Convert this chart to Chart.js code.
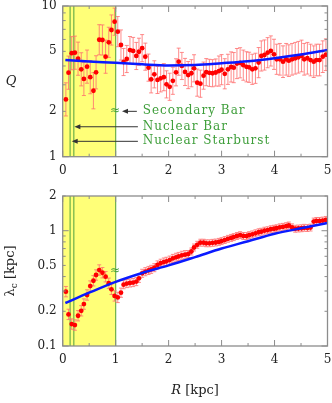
<!DOCTYPE html>
<html>
<head>
<meta charset="utf-8">
<script src="https://cdn.jsdelivr.net/npm/chart.js@4.4.0/dist/chart.umd.min.js"></script>
<style>
html, body { margin: 0; padding: 0; background: #fff; }
#wrap { position: relative; width: 332px; height: 403px; }
#wrap canvas { position: absolute; left: 0; }
</style>
</head>
<body>
<div id="wrap">
  <canvas id="chartQ" width="332" height="182" style="top:0"></canvas>
  <canvas id="chartL" width="332" height="221" style="top:182px"></canvas>
</div>
<script>
// radius of each measured ring [kpc]
var radius = [0.06, 0.11, 0.17, 0.23, 0.29, 0.35, 0.40, 0.46, 0.52, 0.58,
  0.63, 0.69, 0.75, 0.81, 0.87, 0.92, 0.98, 1.04, 1.10, 1.15,
  1.21, 1.27, 1.33, 1.39, 1.44, 1.50, 1.56, 1.62, 1.67, 1.73,
  1.79, 1.85, 1.91, 1.96, 2.02, 2.08, 2.14, 2.19, 2.25, 2.31,
  2.37, 2.43, 2.48, 2.54, 2.60, 2.66, 2.71, 2.77, 2.83, 2.89,
  2.95, 3.00, 3.06, 3.12, 3.18, 3.23, 3.29, 3.35, 3.41, 3.47,
  3.52, 3.58, 3.64, 3.70, 3.75, 3.81, 3.87, 3.93, 3.99, 4.04,
  4.10, 4.16, 4.22, 4.27, 4.33, 4.39, 4.45, 4.51, 4.56, 4.62,
  4.68, 4.74, 4.79, 4.85, 4.91, 4.97];

// Toomre Q
var qVals = [2.40, 3.61, 4.86, 4.90, 4.47, 3.80, 3.28, 3.96, 3.37, 2.74,
  3.63, 5.97, 5.95, 4.61, 5.74, 6.93, 7.87, 6.76, 5.51, 4.25,
  4.45, 5.10, 5.03, 4.66, 4.97, 5.25, 4.61, 3.90, 3.26, 3.52,
  3.23, 3.31, 3.37, 3.02, 2.91, 3.19, 3.63, 4.27, 4.00, 3.65,
  3.48, 3.58, 3.86, 3.10, 3.05, 3.45, 3.64, 3.60, 3.58, 3.62,
  3.70, 3.78, 3.55, 3.80, 3.94, 3.90, 4.15, 4.20, 4.05, 3.95,
  3.92, 3.80, 3.86, 4.21, 4.66, 4.73, 4.90, 5.03, 4.78, 4.43,
  4.43, 4.27, 4.43, 4.34, 4.43, 4.50, 4.57, 4.66, 4.43, 4.50,
  4.38, 4.27, 4.38, 4.38, 4.61, 4.75];
// half length of the Q error bars [dex]
var qErr = [0.11, 0.11, 0.11, 0.11, 0.11, 0.11, 0.11, 0.11, 0.11, 0.12,
  0.11, 0.10, 0.10, 0.11, 0.10, 0.10, 0.09, 0.10, 0.10, 0.09,
  0.09, 0.09, 0.09, 0.09, 0.09, 0.09, 0.09, 0.09, 0.09, 0.09,
  0.09, 0.09, 0.09, 0.09, 0.09, 0.09, 0.09, 0.09, 0.09, 0.09,
  0.09, 0.09, 0.09, 0.09, 0.09, 0.09, 0.09, 0.09, 0.09, 0.09,
  0.10, 0.10, 0.10, 0.10, 0.10, 0.10, 0.10, 0.10, 0.10, 0.10,
  0.10, 0.10, 0.10, 0.10, 0.10, 0.10, 0.10, 0.10, 0.10, 0.10,
  0.105, 0.105, 0.105, 0.105, 0.105, 0.105, 0.105, 0.105, 0.105, 0.105,
  0.105, 0.105, 0.105, 0.105, 0.105, 0.105];

// critical wavelength lambda_c [kpc]
var lamVals = [0.296, 0.188, 0.155, 0.152, 0.183, 0.202, 0.231, 0.277, 0.331, 0.368,
  0.413, 0.456, 0.432, 0.399, 0.350, 0.310, 0.272, 0.264, 0.290, 0.340,
  0.348, 0.352, 0.355, 0.362, 0.386, 0.427, 0.441, 0.452, 0.462, 0.478,
  0.505, 0.522, 0.535, 0.543, 0.556, 0.575, 0.588, 0.598, 0.612, 0.620,
  0.628, 0.660, 0.715, 0.755, 0.787, 0.787, 0.778, 0.778, 0.785, 0.790,
  0.800, 0.812, 0.830, 0.850, 0.866, 0.880, 0.900, 0.915, 0.900, 0.898,
  0.915, 0.930, 0.950, 0.970, 0.980, 1.000, 1.010, 1.030, 1.040, 1.050,
  1.070, 1.080, 1.095, 1.110, 1.070, 1.040, 1.045, 1.050, 1.060, 1.055,
  1.065, 1.200, 1.215, 1.215, 1.225, 1.240];
var lamErr = [0.045, 0.045, 0.045, 0.045, 0.045, 0.045, 0.045, 0.045, 0.045, 0.045,
  0.045, 0.045, 0.045, 0.045, 0.045, 0.045, 0.045, 0.045, 0.04, 0.035,
  0.035, 0.035, 0.035, 0.035, 0.035, 0.035, 0.035, 0.035, 0.035, 0.035,
  0.035, 0.035, 0.035, 0.035, 0.035, 0.035, 0.035, 0.035, 0.035, 0.035,
  0.03, 0.03, 0.03, 0.03, 0.03, 0.03, 0.03, 0.03, 0.03, 0.03,
  0.03, 0.03, 0.03, 0.03, 0.03, 0.03, 0.03, 0.03, 0.03, 0.03,
  0.03, 0.03, 0.03, 0.03, 0.03, 0.03, 0.03, 0.03, 0.03, 0.03,
  0.03, 0.03, 0.03, 0.03, 0.03, 0.03, 0.03, 0.03, 0.03, 0.03,
  0.03, 0.03, 0.03, 0.03, 0.03, 0.03];

// model curves (blue)
var fitR = [0.05, 0.5, 1, 1.5, 2, 2.5, 3, 3.5, 4, 4.5, 5];
var fitQ = [4.38, 4.28, 4.20, 4.10, 4.03, 4.06, 4.17, 4.30, 4.50, 4.76, 5.10];
var fitLam = [0.236, 0.29, 0.36, 0.43, 0.50, 0.59, 0.70, 0.81, 0.94, 1.05, 1.165];

// axes
var xTicks = [0, 1, 2, 3, 4, 5];
var xMinor = [0.5, 1.5, 2.5, 3.5, 4.5];
var qTicks = [1, 2, 5, 10];
var qMajor = [1, 10];
var qMinor = [2, 3, 4, 5, 6, 7, 8, 9];
var lamTicks = [0.1, 0.2, 0.5, 1, 2];
var lamMajor = [0.1, 1];
var lamMinor = [0.2, 0.3, 0.4, 0.5, 0.6, 0.7, 0.8, 0.9, 2];

// regions
var zoneEdge = [0, 1];
var nuclearLines = [0.14, 0.21];
var noteLabels = ["Secondary Bar", "Nuclear Bar", "Nuclear Starburst"];
var noteQ = [2.0, 1.58, 1.265];
var noteTip = [1.12, 0.22, 0.17];

var tickFont = { family: 'DejaVu Serif', size: 12 };
var green = '#3e9e3a';

function drawArrow(ctx, x0, x1, y) {
  ctx.strokeStyle = '#333';
  ctx.fillStyle = '#333';
  ctx.lineWidth = 1;
  ctx.beginPath();
  ctx.moveTo(x0, y);
  ctx.lineTo(x1 + 4, y);
  ctx.stroke();
  ctx.beginPath();
  ctx.moveTo(x1, y);
  ctx.lineTo(x1 + 6, y - 2.5);
  ctx.lineTo(x1 + 6, y + 2.5);
  ctx.closePath();
  ctx.fill();
}

function makeDeco(cfg) {
  return {
    id: 'deco',
    beforeDatasetsDraw: function(chart) {
      var ctx = chart.ctx, a = chart.chartArea, x = chart.scales.x, y = chart.scales.y;
      ctx.save();
      ctx.beginPath();
      ctx.rect(a.left, a.top, a.right - a.left, a.bottom - a.top);
      ctx.clip();
      // yellow inner zone
      var x0 = x.getPixelForValue(zoneEdge[0]), x1 = x.getPixelForValue(zoneEdge[1]);
      ctx.fillStyle = '#ffff78';
      ctx.fillRect(x0, a.top, x1 - x0, a.bottom - a.top);
      ctx.strokeStyle = '#6cb04a';
      ctx.lineWidth = 1.2;
      nuclearLines.concat([zoneEdge[1]]).forEach(function(r) {
        var px = x.getPixelForValue(r);
        ctx.beginPath();
        ctx.moveTo(px, a.top);
        ctx.lineTo(px, a.bottom);
        ctx.stroke();
      });
      // error bars
      ctx.strokeStyle = 'rgba(255,110,110,0.8)';
      ctx.lineWidth = 1;
      for (var i = 0; i < radius.length; i++) {
        var px = x.getPixelForValue(radius[i]);
        var f = Math.pow(10, cfg.err[i]);
        var yt = y.getPixelForValue(cfg.vals[i] * f), yb = y.getPixelForValue(cfg.vals[i] / f);
        ctx.beginPath();
        ctx.moveTo(px, yt); ctx.lineTo(px, yb);
        ctx.moveTo(px - 2, yt); ctx.lineTo(px + 2, yt);
        ctx.moveTo(px - 2, yb); ctx.lineTo(px + 2, yb);
        ctx.stroke();
      }
      ctx.restore();
    },
    afterDatasetsDraw: function(chart) {
      var ctx = chart.ctx, a = chart.chartArea, x = chart.scales.x, y = chart.scales.y;
      ctx.save();
      // frame
      ctx.strokeStyle = '#8c8c8c';
      ctx.lineWidth = 1.3;
      ctx.strokeRect(a.left, a.top, a.right - a.left, a.bottom - a.top);
      // inward ticks
      ctx.lineWidth = 1;
      ctx.beginPath();
      function xt(v, len) {
        var px = x.getPixelForValue(v);
        ctx.moveTo(px, a.bottom); ctx.lineTo(px, a.bottom - len);
        ctx.moveTo(px, a.top); ctx.lineTo(px, a.top + len);
      }
      function yt(v, len) {
        var py = y.getPixelForValue(v);
        ctx.moveTo(a.left, py); ctx.lineTo(a.left + len, py);
        ctx.moveTo(a.right, py); ctx.lineTo(a.right - len, py);
      }
      xTicks.forEach(function(v) { xt(v, 6); });
      xMinor.forEach(function(v) { xt(v, 3); });
      cfg.yMajor.forEach(function(v) { yt(v, 6); });
      cfg.yMinor.forEach(function(v) { yt(v, 3); });
      ctx.stroke();
      // approx sign at R = 1
      ctx.fillStyle = green;
      ctx.font = '12px "DejaVu Sans"';
      ctx.textAlign = 'center';
      ctx.textBaseline = 'middle';
      ctx.fillText('\u2248', x.getPixelForValue(0.99), y.getPixelForValue(cfg.approxY));
      // notes + arrows
      if (cfg.notes) {
        for (var i = 0; i < noteLabels.length; i++) {
          var py = y.getPixelForValue(noteQ[i]);
          var start = i === 0 ? 1.40 : 1.42;
          drawArrow(ctx, x.getPixelForValue(start), x.getPixelForValue(noteTip[i]), py);
          ctx.fillStyle = green;
          ctx.font = '12px "DejaVu Serif"';
          ctx.letterSpacing = '1px';
          ctx.textAlign = 'left';
          ctx.textBaseline = 'middle';
          ctx.fillText(noteLabels[i], x.getPixelForValue(1.51), py);
        }
      }
      ctx.restore();
      // axis titles
      ctx.save();
      ctx.fillStyle = '#222';
      ctx.textAlign = 'center';
      ctx.textBaseline = 'middle';
      if (cfg.notes) {
        ctx.font = 'italic 13px "DejaVu Serif"';
        ctx.fillText('Q', 11, 82);
      } else {
        ctx.translate(11, 89);
        ctx.rotate(-Math.PI / 2);
        ctx.font = '13px "DejaVu Serif"';
        var w1 = ctx.measureText('\u03bb').width;
        ctx.font = '9px "DejaVu Serif"';
        var w2 = ctx.measureText('c').width;
        ctx.font = '13px "DejaVu Serif"';
        var w3 = ctx.measureText(' [kpc]').width;
        var sx = -(w1 + w2 + w3) / 2;
        ctx.textAlign = 'left';
        ctx.fillText('\u03bb', sx, 0);
        ctx.font = '9px "DejaVu Serif"';
        ctx.fillText('c', sx + w1, 4);
        ctx.font = '13px "DejaVu Serif"';
        ctx.fillText(' [kpc]', sx + w1 + w2, 0);
        ctx.restore();
        ctx.save();
        ctx.fillStyle = '#222';
        ctx.textBaseline = 'middle';
        ctx.font = 'italic 13px "DejaVu Serif"';
        var wr = ctx.measureText('R').width;
        ctx.font = '13px "DejaVu Serif"';
        var wk = ctx.measureText(' [kpc]').width;
        var cx = (a.left + a.right) / 2 - (wr + wk) / 2;
        ctx.textAlign = 'left';
        ctx.font = 'italic 13px "DejaVu Serif"';
        ctx.fillText('R', cx, 209);
        ctx.font = '13px "DejaVu Serif"';
        ctx.fillText(' [kpc]', cx + wr, 209);
      }
      ctx.restore();
    }
  };
}

function buildChart(el, vals, fit, yMin, yMax, yTicks, cfg, padTop, xHeight) {
  var pts = radius.map(function(r, i) { return { x: r, y: vals[i] }; });
  var curve = fitR.map(function(r, i) { return { x: r, y: fit[i] }; });
  return new Chart(el.getContext('2d'), {
    type: 'scatter',
    data: {
      datasets: [{
        type: 'line',
        data: curve,
        borderColor: '#0a1aff',
        borderWidth: 2.5,
        pointRadius: 0,
        tension: 0.4,
        cubicInterpolationMode: 'monotone',
        fill: false,
        order: 0
      }, {
        data: pts,
        backgroundColor: '#ff0000',
        borderWidth: 0,
        pointRadius: 2.4,
        order: 1
      }]
    },
    options: {
      responsive: false,
      animation: false,
      layout: { padding: { top: padTop, right: 4.5, left: 0, bottom: 0 } },
      plugins: { legend: { display: false }, tooltip: { enabled: false } },
      scales: {
        x: {
          type: 'linear', min: 0, max: 5,
          grid: { display: false, drawTicks: false },
          border: { display: false },
          afterBuildTicks: function(s) { s.ticks = xTicks.map(function(v) { return { value: v }; }); },
          afterFit: function(s) { s.height = xHeight; s.paddingLeft = 0; s.paddingRight = 0; },
          ticks: { font: tickFont, color: '#222', padding: 7, maxRotation: 0, autoSkip: false }
        },
        y: {
          type: 'logarithmic', min: yMin, max: yMax,
          grid: { display: false, drawTicks: false },
          border: { display: false },
          afterBuildTicks: function(s) { s.ticks = yTicks.map(function(v) { return { value: v }; }); },
          afterFit: function(s) { s.width = 62.7; s.paddingTop = 0; s.paddingBottom = 0; },
          ticks: { font: tickFont, color: '#222', padding: 6, autoSkip: false,
            callback: function(v) { return String(v); } }
        }
      }
    },
    plugins: [makeDeco(cfg)]
  });
}

buildChart(document.getElementById('chartQ'), qVals, fitQ, 1, 10, qTicks,
  { vals: qVals, err: qErr, yMajor: qMajor, yMinor: qMinor, approxY: 2.0, notes: true }, 6, 25.3);
buildChart(document.getElementById('chartL'), lamVals, fitLam, 0.1, 2, lamTicks,
  { vals: lamVals, err: lamErr, yMajor: lamMajor, yMinor: lamMinor, approxY: 0.447, notes: false }, 14, 57);
</script>
</body>
</html>
